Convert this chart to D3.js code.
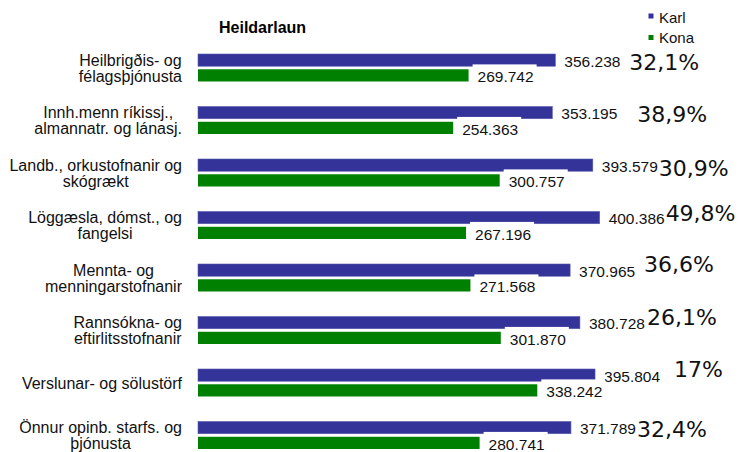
<!DOCTYPE html>
<html>
<head>
<meta charset="utf-8">
<script src="https://cdn.jsdelivr.net/npm/d3@7"></script>
<style>
  body { margin: 0; background: #fff; }
  text { font-family: "Liberation Sans", Arial, sans-serif; }
</style>
</head>
<body>
<div id="chart"></div>
<script>
// Data
const categories = [
  ["Heilbrigðis- og", "félagsþjónusta"],
  ["Innh.menn ríkissj.,", "almannatr. og lánasj."],
  ["Landb., orkustofnanir og", "skógrækt"],
  ["Löggæsla, dómst., og", "fangelsi"],
  ["Mennta- og", "menningarstofnanir"],
  ["Rannsókna- og", "eftirlitsstofnanir"],
  ["Verslunar- og sölustörf"],
  ["Önnur opinb. starfs. og", "þjónusta"],
];
const series = ["Karl", "Kona"];
const karl = [356238, 353195, 393579, 400386, 370965, 380728, 395804, 371789];
const kona = [269742, 254363, 300757, 267196, 271568, 301870, 338242, 280741];
const gapLabels = ["32,1%", "38,9%", "30,9%", "49,8%", "36,6%", "26,1%", "17%", "32,4%"];

// Settings
const width = 740;
const height = 452;
const colors = { Karl: "#333399", Kona: "#008000" };
const labelRight = 182;
// hand-placed percentage boxes, offset from the end of the Karl bar / top of the group
const gapNudge = [[74, 16], [85, 15.5], [66, 17], [66, 9], [74, 8], [67, 8.5], [79, 7.7], [66, 15.5]];

const is = d3.formatLocale({ decimal: ",", thousands: ".", grouping: [3], currency: ["", " kr."] });
const fmt = is.format(",d");

const svg = d3.select("#chart").append("svg")
  .attr("width", width)
  .attr("height", height);

const x = d3.scaleLinear().domain([0, 450000]).range([198, 649.4]);
const y = d3.scaleBand().domain(d3.range(categories.length)).range([41, 461]);
const ySub = d3.scaleBand().domain(series).range([13, 40.5]).paddingInner(0.2);

const rows = categories.map((c, i) => ({ i, lines: c, Karl: karl[i], Kona: kona[i], gap: gapLabels[i] }));

// Title
svg.append("text")
  .attr("x", 219).attr("y", 33)
  .style("font-size", "16px").style("font-weight", "bold")
  .text("Heildarlaun");

// Legend
const legend = svg.append("g").attr("id", "legend");
series.forEach((s, k) => {
  legend.append("rect")
    .attr("x", 648.5).attr("y", 13.5 + k * 21.5)
    .attr("width", 5).attr("height", 5)
    .attr("fill", colors[s]);
  legend.append("text")
    .attr("x", 659).attr("y", 22.7 + k * 20.5)
    .style("font-size", "15px").attr("fill", "#111")
    .text(s);
});

const groups = svg.selectAll("g.row").data(rows).enter()
  .append("g").attr("class", "row")
  .attr("transform", (d) => "translate(0," + y(d.i) + ")");

// Bars
series.forEach((s) => {
  groups.append("rect")
    .attr("x", x(0))
    .attr("y", ySub(s))
    .attr("width", (d) => x(d[s]) - x(0))
    .attr("height", ySub.bandwidth())
    .attr("fill", colors[s])
    .attr("stroke", s === "Karl" ? "#5a5aae" : "none")
    .attr("stroke-width", 0.6);
});

// Value labels with white boxes
series.forEach((s) => {
  groups.each(function (d) {
    const g = d3.select(this);
    const base = ySub(s) + ySub.bandwidth() + 0.6;
    const box = g.append("rect").attr("fill", "#fff");
    const t = g.append("text")
      .attr("x", x(d[s]) + 9)
      .attr("y", base)
      .style("font-size", "15.5px").attr("fill", "#111")
      .text(fmt(d[s]));
    const w = t.node().getComputedTextLength();
    box.attr("x", x(d[s]) + 4).attr("y", base - 17.7)
      .attr("width", w + 8).attr("height", 21);
  });
});

// Category labels: centred lines, block right-aligned
groups.each(function (d) {
  const g = d3.select(this);
  const mid = (ySub("Karl") + ySub("Kona") + ySub.bandwidth()) / 2;
  const t = g.append("text")
    .style("font-size", "16px").attr("fill", "#111")
    .attr("text-anchor", "middle");
  const n = d.lines.length;
  const spans = d.lines.map((line, k) =>
    t.append("tspan")
      .attr("y", mid + 6 + (k - (n - 1) / 2) * 16)
      .text(line));
  const maxW = d3.max(spans, (sp) => sp.node().getComputedTextLength());
  spans.forEach((sp) => sp.attr("x", labelRight - maxW / 2));
});

// Percentage differences
groups.append("text")
  .attr("x", (d) => x(d.Karl) + gapNudge[d.i][0])
  .attr("y", (d) => ySub("Karl") + gapNudge[d.i][1])
  .style("font-family", "'DejaVu Sans', sans-serif")
  .style("font-size", "22px").attr("fill", "#111")
  .text((d) => d.gap);
</script>
</body>
</html>
